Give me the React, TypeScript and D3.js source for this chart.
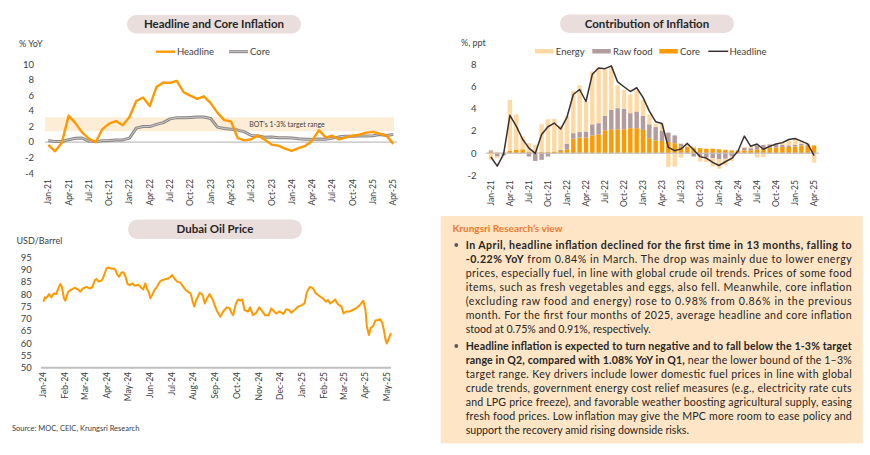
import React, { useEffect, useRef } from 'react';
import * as d3 from 'd3';

// ---- monthly inflation data (Jan-21 .. Apr-25) ----
const months = [
  'Jan-21', 'Feb-21', 'Mar-21', 'Apr-21', 'May-21', 'Jun-21', 'Jul-21', 'Aug-21', 'Sep-21', 'Oct-21', 'Nov-21', 'Dec-21',
  'Jan-22', 'Feb-22', 'Mar-22', 'Apr-22', 'May-22', 'Jun-22', 'Jul-22', 'Aug-22', 'Sep-22', 'Oct-22', 'Nov-22', 'Dec-22',
  'Jan-23', 'Feb-23', 'Mar-23', 'Apr-23', 'May-23', 'Jun-23', 'Jul-23', 'Aug-23', 'Sep-23', 'Oct-23', 'Nov-23', 'Dec-23',
  'Jan-24', 'Feb-24', 'Mar-24', 'Apr-24', 'May-24', 'Jun-24', 'Jul-24', 'Aug-24', 'Sep-24', 'Oct-24', 'Nov-24', 'Dec-24',
  'Jan-25', 'Feb-25', 'Mar-25', 'Apr-25',
];

const headline = [
  -0.34, -1.17, -0.08, 3.41, 2.44, 1.25, 0.45, -0.02, 1.68, 2.38, 2.71, 2.17,
  3.23, 5.28, 5.73, 4.65, 7.10, 7.66, 7.61, 7.86, 6.41, 5.98, 5.55, 5.89,
  5.02, 3.79, 2.83, 2.67, 0.53, 0.23, 0.38, 0.88, 0.30, -0.31, -0.44, -0.83,
  -1.11, -0.77, -0.47, 0.19, 1.54, 0.62, 0.83, 0.35, 0.61, 0.83, 0.95, 1.23,
  1.32, 1.08, 0.84, -0.22,
];

const core = [
  0.21, 0.07, 0.08, 0.32, 0.49, 0.52, 0.14, 0.07, 0.19, 0.21, 0.29, 0.29,
  0.52, 1.80, 2.00, 2.00, 2.28, 2.51, 2.99, 3.15, 3.12, 3.17, 3.22, 3.23,
  3.04, 1.93, 1.75, 1.66, 1.55, 1.32, 0.86, 0.79, 0.63, 0.66, 0.58, 0.58,
  0.52, 0.43, 0.37, 0.37, 0.39, 0.36, 0.52, 0.68, 0.77, 0.77, 0.80, 0.79,
  0.83, 0.99, 0.86, 0.98,
];

// contributions to headline, ppt
const coreContrib = [
  0.15, 0.05, 0.05, 0.2, 0.3, 0.35, 0.1, 0.05, 0.1, 0.1, 0.15, 0.2,
  0.35, 1.3, 1.4, 1.4, 1.6, 1.7, 2.05, 2.15, 2.15, 2.15, 2.25, 2.25,
  2.1, 1.35, 1.15, 1.1, 1.0, 0.9, 0.6, 0.55, 0.45, 0.45, 0.4, 0.4,
  0.35, 0.3, 0.25, 0.25, 0.25, 0.25, 0.35, 0.45, 0.5, 0.5, 0.55, 0.55,
  0.6, 0.7, 0.65, 0.7,
];
const rawFoodContrib = [
  0.1, -0.3, -0.2, 0, 0, 0, -0.3, -0.7, -0.6, -0.3, 0, 0.1,
  0.5, 0.5, 0.5, 0.55, 1.0, 1.0, 1.3, 1.75, 1.9, 1.85, 1.35, 1.5,
  1.25, 1.25, 1.2, 0.95, 0.85, 0.7, 0.25, 0.05, -0.3, -0.25, -0.35, -0.45,
  -0.55, -0.5, -0.25, 0, 0.25, 0.2, 0.35, 0.3, 0.3, 0.3, 0.2, 0.15,
  0.15, 0.15, 0.15, 0,
];
const energyContrib = [
  -0.6, -0.15, 0, 4.6, 3.2, 1.15, 0.8, 0.7, 2.5, 2.95, 2.95, 2.2,
  2.5, 3.8, 4.2, 2.7, 4.75, 5.0, 4.2, 3.9, 2.05, 1.7, 1.7, 1.9,
  1.45, 0.9, 0.3, 0.6, -1.25, -1.2, -0.4, 0.2, 0.15, -0.5, -0.45, -0.75,
  -0.85, -0.55, -0.45, 0.05, 0.1, 0.1, -0.4, -0.35, 0.05, 0.05, 0.2, 0.45,
  0.55, 0.2, 0.05, -0.85,
];

const targetBand = [1.4, 3.2];
const inflationTicks = [-4, -2, 0, 2, 4, 6, 8, 10];
const contribTicks = [-2, 0, 2, 4, 6, 8];

// ---- Dubai oil price, USD/barrel ----
const oilDates = [
  '2024-01-02', '2024-01-04', '2024-01-06', '2024-01-10', '2024-01-13', '2024-01-17', '2024-01-20', '2024-01-24',
  '2024-01-26', '2024-01-28', '2024-01-31', '2024-02-02', '2024-02-06', '2024-02-10', '2024-02-15', '2024-02-20',
  '2024-02-23', '2024-02-27', '2024-03-03', '2024-03-07', '2024-03-11', '2024-03-15', '2024-03-17', '2024-03-20',
  '2024-03-24', '2024-03-27', '2024-03-31', '2024-04-02', '2024-04-07', '2024-04-12', '2024-04-15', '2024-04-18',
  '2024-04-21', '2024-04-24', '2024-04-27', '2024-04-30', '2024-05-03', '2024-05-07', '2024-05-10', '2024-05-15',
  '2024-05-18', '2024-05-22', '2024-05-25', '2024-05-27', '2024-05-30', '2024-06-01', '2024-06-04', '2024-06-07',
  '2024-06-10', '2024-06-13', '2024-06-16', '2024-06-21', '2024-06-26', '2024-06-29', '2024-07-02', '2024-07-05',
  '2024-07-09', '2024-07-13', '2024-07-17', '2024-07-21', '2024-07-24', '2024-07-28', '2024-07-31', '2024-08-02',
  '2024-08-05', '2024-08-10', '2024-08-14', '2024-08-17', '2024-08-20', '2024-08-24', '2024-08-28', '2024-08-31',
  '2024-09-03', '2024-09-08', '2024-09-12', '2024-09-17', '2024-09-21', '2024-09-24', '2024-09-26', '2024-09-30',
  '2024-10-03', '2024-10-06', '2024-10-09', '2024-10-12', '2024-10-17', '2024-10-20', '2024-10-24', '2024-10-28',
  '2024-11-02', '2024-11-05', '2024-11-10', '2024-11-15', '2024-11-19', '2024-11-23', '2024-11-26', '2024-12-01',
  '2024-12-06', '2024-12-10', '2024-12-14', '2024-12-17', '2024-12-22', '2024-12-27', '2025-01-01', '2025-01-05',
  '2025-01-08', '2025-01-11', '2025-01-13', '2025-01-17', '2025-01-21', '2025-01-26', '2025-01-31', '2025-02-04',
  '2025-02-07', '2025-02-10', '2025-02-14', '2025-02-17', '2025-02-21', '2025-02-26', '2025-03-01', '2025-03-05',
  '2025-03-10', '2025-03-14', '2025-03-19', '2025-03-23', '2025-03-26', '2025-03-29', '2025-04-01', '2025-04-03',
  '2025-04-06', '2025-04-08', '2025-04-12', '2025-04-15', '2025-04-19', '2025-04-22', '2025-04-25', '2025-04-27',
  '2025-04-29', '2025-05-01', '2025-05-04', '2025-05-06', '2025-05-07',
];
const oilPrices = [
  77.0, 78.8, 78.4, 80.1, 78.8, 80.4, 80.1, 83.1,
  84.2, 83.1, 78.4, 77.4, 81.1, 81.8, 82.7, 82.0,
  81.1, 82.4, 83.1, 82.4, 82.9, 85.9, 86.3, 85.2,
  85.6, 87.2, 90.6, 91.0, 90.6, 90.4, 88.3, 87.2,
  88.9, 89.0, 87.2, 84.2, 83.8, 84.5, 83.5, 84.0,
  83.1, 82.0, 84.5, 82.4, 80.8, 78.4, 80.0, 81.8,
  82.9, 84.5, 85.6, 86.1, 86.5, 87.0, 87.9, 86.5,
  85.2, 84.9, 83.4, 81.8, 81.1, 80.4, 77.0, 75.0,
  77.7, 80.7, 79.7, 76.3, 78.4, 80.1, 77.9, 75.6,
  73.3, 70.9, 73.0, 74.7, 74.3, 72.2, 71.5, 76.3,
  77.9, 77.4, 77.9, 73.6, 73.0, 74.7, 71.5, 72.2,
  74.7, 73.6, 71.5, 71.5, 74.3, 73.0, 72.2, 73.0,
  72.0, 73.9, 73.6, 72.5, 73.6, 75.0, 75.6, 76.3,
  80.7, 82.4, 83.1, 82.4, 80.4, 79.3, 78.4, 77.0,
  77.7, 76.3, 77.0, 77.9, 76.0, 75.0, 72.2, 73.0,
  73.0, 73.6, 74.3, 75.3, 76.3, 77.4, 73.6, 66.8,
  63.4, 66.1, 67.1, 69.3, 69.5, 69.8, 68.1, 65.4,
  62.0, 59.9, 62.0, 63.4, 64.2,
];
const oilTicks = [50, 55, 60, 65, 70, 75, 80, 85, 90, 95];
const oilMonthLabels = [
  'Jan-24', 'Feb-24', 'Mar-24', 'Apr-24', 'May-24', 'Jun-24', 'Jul-24', 'Aug-24', 'Sep-24',
  'Oct-24', 'Nov-24', 'Dec-24', 'Jan-25', 'Feb-25', 'Mar-25', 'Apr-25', 'May-25',
];

// ---- commentary ----
type Seg = { t: string; b?: boolean };
const viewParagraphs: Seg[][][] = [
  [
    [{ t: 'In April, headline inflation declined for the first time in 13 months, falling to', b: true }],
    [{ t: '-0.22% YoY', b: true }, { t: ' from 0.84% in March. The drop was mainly due to lower energy' }],
    [{ t: 'prices, especially fuel, in line with global crude oil trends. Prices of some food' }],
    [{ t: 'items, such as fresh vegetables and eggs, also fell. Meanwhile, core inflation' }],
    [{ t: '(excluding raw food and energy) rose to 0.98% from 0.86% in the previous' }],
    [{ t: 'month. For the first four months of 2025, average headline and core inflation' }],
    [{ t: 'stood at 0.75% and 0.91%, respectively.' }],
  ],
  [
    [{ t: 'Headline inflation is expected to turn negative and to fall below the 1-3% target', b: true }],
    [{ t: 'range in Q2, compared with 1.08% YoY in Q1,', b: true }, { t: ' near the lower bound of the 1\u20133%' }],
    [{ t: 'target range. Key drivers include lower domestic fuel prices in line with global' }],
    [{ t: 'crude trends, government energy cost relief measures (e.g., electricity rate cuts' }],
    [{ t: 'and LPG price freeze), and favorable weather boosting agricultural supply, easing' }],
    [{ t: 'fresh food prices. Low inflation may give the MPC more room to ease policy and' }],
    [{ t: 'support the recovery amid rising downside risks.' }],
  ],
];

const FONT = 'Lato, "Noto Sans", sans-serif';
const ORANGE = '#FF9900';
const TEXT = '#404040';

const App: React.FC = () => {
  const svgRef = useRef<SVGSVGElement>(null);

  useEffect(() => {
    if (!svgRef.current) return;
    document.body.style.margin = '0';
    const svg = d3.select(svgRef.current);
    svg.selectAll('*').remove();
    svg.style('font-family', FONT);

    const pill = (cx: number, y: number, w: number, h: number, label: string) => {
      svg.append('rect')
        .attr('x', cx - w / 2).attr('y', y).attr('width', w).attr('height', h)
        .attr('rx', h / 2).attr('fill', '#E9DEDC');
      svg.append('text')
        .attr('x', cx).attr('y', y + h / 2).attr('dy', '0.36em')
        .attr('text-anchor', 'middle').style('font-size', '11.5px').style('font-weight', 'bold')
        .attr('fill', '#262626').text(label);
    };

    const rotatedLabels = (xs: number[], labels: string[], yEnd: number) => {
      labels.forEach((l, i) => {
        svg.append('text')
          .attr('transform', `translate(${xs[i]},${yEnd}) rotate(-90)`)
          .attr('text-anchor', 'end').attr('dy', '0.35em')
          .style('font-size', '8.5px').attr('fill', TEXT).text(l);
      });
    };

    const yLabels = (ticks: number[], y: d3.ScaleLinear<number, number>, xRight: number) => {
      ticks.forEach(t => {
        svg.append('text')
          .attr('x', xRight).attr('y', y(t)).attr('dy', '0.35em')
          .attr('text-anchor', 'end').style('font-size', '9.5px').attr('fill', TEXT).text(t);
      });
    };

    // ================= Headline and Core Inflation =================
    pill(214, 15, 174, 18.5, 'Headline and Core Inflation');
    svg.append('text').attr('x', 19).attr('y', 46.5).style('font-size', '9px').attr('fill', TEXT).text('% YoY');

    const x1 = d3.scalePoint<string>().domain(months).range([48.3, 393.3]);
    const y1 = d3.scaleLinear().domain([-4, 10]).range([173.3, 64.3]);

    svg.append('rect')
      .attr('x', 45).attr('width', 349)
      .attr('y', y1(targetBand[1])).attr('height', y1(targetBand[0]) - y1(targetBand[1]))
      .attr('fill', '#FDEDD6');
    svg.append('text').attr('x', 287).attr('y', y1(2.3)).attr('dy', '0.35em')
      .attr('text-anchor', 'middle').style('font-size', '7px').attr('fill', TEXT)
      .text('BOT\u2019s 1-3% target range');

    svg.append('line').attr('x1', 45).attr('x2', 397).attr('y1', y1(0)).attr('y2', y1(0))
      .attr('stroke', '#BFBFBF').attr('stroke-width', 1.2);

    yLabels(inflationTicks, y1, 34);

    const line1 = d3.line<number>().x((_, i) => x1(months[i]) as number).y(d => y1(d));
    svg.append('path').datum(core).attr('d', line1).attr('fill', 'none')
      .attr('stroke', '#8A8585').attr('stroke-width', 3).attr('stroke-linejoin', 'round');
    svg.append('path').datum(core).attr('d', line1).attr('fill', 'none')
      .attr('stroke', '#CFCACA').attr('stroke-width', 1).attr('stroke-linejoin', 'round');
    svg.append('path').datum(headline).attr('d', line1).attr('fill', 'none')
      .attr('stroke', ORANGE).attr('stroke-width', 2.4).attr('stroke-linejoin', 'round');

    // legend
    svg.append('line').attr('x1', 156).attr('x2', 175).attr('y1', 51.7).attr('y2', 51.7)
      .attr('stroke', ORANGE).attr('stroke-width', 2.4);
    svg.append('text').attr('x', 177).attr('y', 51.7).attr('dy', '0.35em').style('font-size', '9.5px')
      .attr('fill', TEXT).text('Headline');
    svg.append('line').attr('x1', 229).attr('x2', 248).attr('y1', 51.7).attr('y2', 51.7)
      .attr('stroke', '#8A8585').attr('stroke-width', 3);
    svg.append('line').attr('x1', 229).attr('x2', 248).attr('y1', 51.7).attr('y2', 51.7)
      .attr('stroke', '#CFCACA').attr('stroke-width', 1);
    svg.append('text').attr('x', 250).attr('y', 51.7).attr('dy', '0.35em').style('font-size', '9.5px')
      .attr('fill', TEXT).text('Core');

    const q1 = months.filter((_, i) => i % 3 === 0);
    rotatedLabels(q1.map(m => x1(m) as number), q1, 179);

    // ================= Contribution of Inflation =================
    pill(647, 14.5, 174, 18.5, 'Contribution of Inflation');
    svg.append('text').attr('x', 461).attr('y', 46).style('font-size', '9px').attr('fill', TEXT).text('%, ppt');

    const x2 = d3.scaleBand<string>().domain(months).range([486.8, 818.2]).padding(0.3);
    const y2 = d3.scaleLinear().domain([-2, 8]).range([175.4, 64.3]);
    const cx2 = (m: string) => (x2(m) as number) + x2.bandwidth() / 2;

    const rows = months.map((m, i) => ({
      month: m, core: coreContrib[i], rawFood: rawFoodContrib[i], energy: energyContrib[i],
    }));
    const keys = ['core', 'rawFood', 'energy'] as const;
    const colors: Record<string, string> = { core: ORANGE, rawFood: '#B39C9C', energy: '#FFD9A3' };
    const stacked = d3.stack<any>().keys(keys as unknown as string[]).offset(d3.stackOffsetDiverging)(rows);

    stacked.forEach(series => {
      svg.append('g').selectAll('rect')
        .data(series)
        .enter().append('rect')
        .attr('x', d => x2(d.data.month) as number)
        .attr('width', x2.bandwidth())
        .attr('y', d => y2(Math.max(d[0], d[1])))
        .attr('height', d => Math.abs(y2(d[0]) - y2(d[1])))
        .attr('fill', colors[series.key]);
    });

    svg.append('line').attr('x1', 486).attr('x2', 819).attr('y1', y2(0)).attr('y2', y2(0))
      .attr('stroke', '#BFBFBF').attr('stroke-width', 1.2);

    yLabels(contribTicks, y2, 476.5);

    const line2 = d3.line<number>().x((_, i) => cx2(months[i])).y(d => y2(d));
    svg.append('path').datum(headline).attr('d', line2).attr('fill', 'none')
      .attr('stroke', '#3B2F2F').attr('stroke-width', 1.5).attr('stroke-linejoin', 'round');

    // legend
    const legend2 = [
      { label: 'Energy', color: colors.energy, x: 535 },
      { label: 'Raw food', color: colors.rawFood, x: 592.3 },
      { label: 'Core', color: colors.core, x: 659.3 },
    ];
    legend2.forEach(l => {
      svg.append('rect').attr('x', l.x).attr('y', 49).attr('width', 18.5).attr('height', 4.5).attr('fill', l.color);
      svg.append('text').attr('x', l.x + 20.8).attr('y', 51.3).attr('dy', '0.35em')
        .style('font-size', '9.5px').attr('fill', TEXT).text(l.label);
    });
    svg.append('line').attr('x1', 708.3).attr('x2', 728.3).attr('y1', 51.3).attr('y2', 51.3)
      .attr('stroke', '#3B2F2F').attr('stroke-width', 1.5);
    svg.append('text').attr('x', 729.5).attr('y', 51.3).attr('dy', '0.35em')
      .style('font-size', '9.5px').attr('fill', TEXT).text('Headline');

    rotatedLabels(q1.map(cx2), q1, 180);

    // ================= Dubai Oil Price =================
    pill(215, 219.5, 174, 19.5, 'Dubai Oil Price');
    svg.append('text').attr('x', 16.5).attr('y', 244).style('font-size', '9px').attr('fill', TEXT).text('USD/Barrel');

    const parseDay = d3.timeParse('%Y-%m-%d');
    const parseMonth = d3.timeParse('%b-%y');
    const x3 = d3.scaleTime()
      .domain([parseMonth('Jan-24') as Date, parseMonth('May-25') as Date])
      .range([42.7, 386.7]);
    const y3 = d3.scaleLinear().domain([50, 95]).range([367.7, 257.7]);

    yLabels(oilTicks, y3, 31.7);

    svg.append('line').attr('x1', 41).attr('x2', 391).attr('y1', y3(50)).attr('y2', y3(50))
      .attr('stroke', '#BFBFBF').attr('stroke-width', 2);

    const line3 = d3.line<number>()
      .x((_, i) => x3(parseDay(oilDates[i]) as Date))
      .y(d => y3(d));
    svg.append('path').datum(oilPrices).attr('d', line3).attr('fill', 'none')
      .attr('stroke', ORANGE).attr('stroke-width', 2).attr('stroke-linejoin', 'round');

    rotatedLabels(oilMonthLabels.map(l => x3(parseMonth(l) as Date)), oilMonthLabels, 372);

    svg.append('text').attr('x', 12).attr('y', 431).style('font-size', '7.5px').attr('fill', TEXT)
      .text('Source:  MOC, CEIC, Krungsri Research');

    // ================= Krungsri Research's view =================
    svg.append('rect').attr('x', 440.7).attr('y', 216).attr('width', 422).attr('height', 227.3)
      .attr('fill', '#FDE5C5');
    svg.append('text').attr('x', 452.5).attr('y', 228.3).attr('dy', '0.35em')
      .style('font-size', '10px').style('font-weight', 'bold').attr('fill', '#EC7A2C')
      .text('Krungsri Research\u2019s view');

    const lineStart = 465.7;
    const lineWidth = 386;
    const paraTops = [245, 346];
    viewParagraphs.forEach((para, p) => {
      svg.append('circle').attr('cx', 456.3).attr('cy', paraTops[p]).attr('r', 1.9).attr('fill', '#595959');
      para.forEach((segs, li) => {
        const t = svg.append('text')
          .attr('x', lineStart).attr('y', paraTops[p] + li * 14).attr('dy', '0.35em')
          .style('font-size', '10.6px').attr('fill', '#262626');
        if (li < para.length - 1) t.attr('textLength', lineWidth).attr('lengthAdjust', 'spacing');
        segs.forEach(s => {
          t.append('tspan').style('font-weight', s.b ? 'bold' : 'normal').text(s.t);
        });
      });
    });
  }, []);

  return <svg ref={svgRef} width={870} height={455} style={{ display: 'block' }} />;
};

export default App;
